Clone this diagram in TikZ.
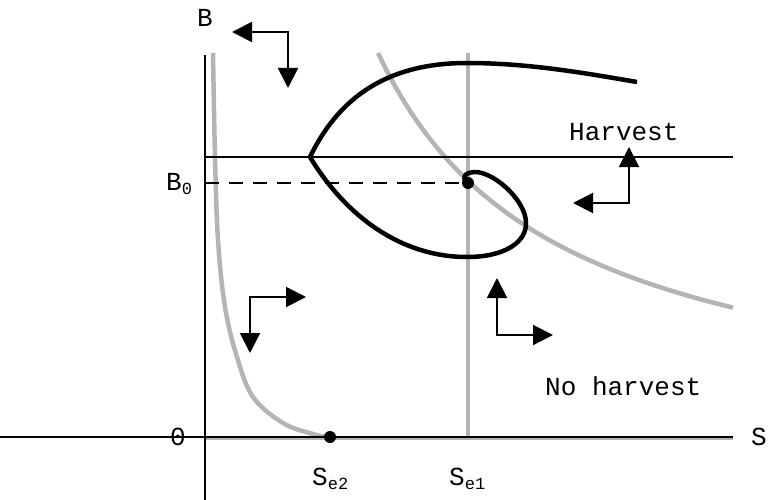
\documentclass[tikz,border=0pt]{standalone}
\usepackage{fontspec}
\setmainfont{Liberation Mono}
\usetikzlibrary{arrows.meta}
\definecolor{isogray}{RGB}{180,180,180}
\newcommand{\lbl}{\fontsize{26}{30}\selectfont}
\newcommand{\subs}[1]{\raisebox{-4pt}{\fontsize{17}{20}\selectfont #1}}
\tikzset{
  graythick/.style={draw=isogray,line width=4.5pt},
  thinblack/.style={draw=black,line width=1.2pt},
  traj/.style={draw=black,line width=4.5pt,line join=round},
  dirarrow/.style={draw=black,line width=2pt,{Triangle[length=20pt,width=20pt]}-{Triangle[length=20pt,width=20pt]}},
  txt/.style={inner sep=0pt,font=\lbl},
  eqdot/.style={circle,fill=black,inner sep=0pt,minimum size=12pt}
}
\begin{document}
\begin{tikzpicture}[x=1pt,y=-1pt]
\useasboundingbox (0,0) rectangle (768,500);
% coordinates
\coordinate (origin) at (205,437);
\coordinate (yaxtop) at (205,55);
\coordinate (yaxbot) at (205,500);
\coordinate (xaxleft) at (0,437);
\coordinate (xaxright) at (733,437);
\coordinate (hleft) at (205,157);
\coordinate (hright) at (733,157);
\coordinate (b0left) at (205,183);
\coordinate (se1top) at (468,53);
\coordinate (se1bot) at (468,438);
\coordinate (gleft) at (205,438);
\coordinate (gright) at (733,438);
\coordinate (cusp) at (310,157);
\coordinate (trajend) at (637,82);
% gray isoclines
\draw[graythick] (gleft) -- (gright);
\draw[graythick] (se1top) -- (se1bot);
\draw[graythick] plot[smooth,tension=0.6] coordinates {(213,53) (215,157) (218,240) (225,307) (237,357) (253,397) (283,423) (313,434) (330,437.5)};
\draw[graythick] plot[domain=378:733,samples=80] ({\x},{437-692.74/((\x-197.6)/100)});
% axes and harvest line
\draw[thinblack] (yaxtop) -- (yaxbot);
\draw[thinblack] (xaxleft) -- (xaxright);
\draw[thinblack] (hleft) -- (hright);
% equilibria
\node[eqdot] (eq1) at (468,183) {};
\node[eqdot] (eq2) at (330,437) {};
\draw[draw=black,line width=2pt,dash pattern=on 14pt off 10pt] (b0left) -- (eq1.center);
% trajectory
\draw[traj] (trajend) .. controls (590,74) and (530,63) .. (467,63)
  .. controls (390,63) and (340,95) .. (cusp)
  .. controls (345,215) and (400,257) .. (467,257)
  .. controls (505,257) and (527,242) .. (526,222)
  .. controls (525,200) and (495,173) .. (476,172)
  .. controls (465,172) and (460,178) .. (eq1.center);
% direction arrows
\coordinate (a1l) at (232,32); \coordinate (a1c) at (288,32); \coordinate (a1d) at (288,88);
\coordinate (a2r) at (306,297); \coordinate (a2c) at (250,297); \coordinate (a2d) at (250,353);
\coordinate (a3u) at (497,278); \coordinate (a3c) at (497,335); \coordinate (a3r) at (553,335);
\coordinate (a4u) at (629,147); \coordinate (a4c) at (629,203); \coordinate (a4l) at (573,203);
\draw[dirarrow] (a1l) -- (a1c) -- (a1d);
\draw[dirarrow] (a2r) -- (a2c) -- (a2d);
\draw[dirarrow] (a3u) -- (a3c) -- (a3r);
\draw[dirarrow] (a4u) -- (a4c) -- (a4l);
% labels
\node[txt,anchor=base] (labB) at (205,27) {B};
\node[txt,anchor=base] (labzero) at (178,445) {0};
\node[txt,anchor=base west] (labS) at (751,445) {S};
\node[txt,anchor=base west] (labB0) at (166,190) {B\subs{0}};
\node[txt,anchor=base west] (labSe2) at (312,485) {S\subs{e2}};
\node[txt,anchor=base west] (labSe1) at (449,485) {S\subs{e1}};
\node[txt,anchor=base west] (labH) at (569,140) {Harvest};
\node[txt,anchor=base west] (labNH) at (545,395) {No harvest};
\end{tikzpicture}
\end{document}
